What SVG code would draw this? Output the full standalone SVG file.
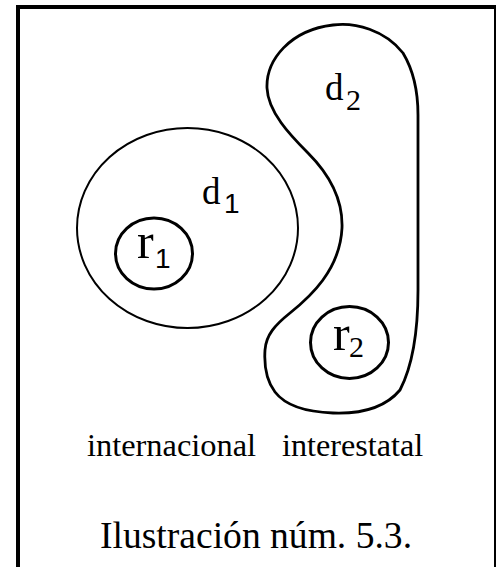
<svg xmlns="http://www.w3.org/2000/svg" width="496" height="567" viewBox="0 0 496 567">
<style>
.shape{fill:none;stroke:#000}
.serif{font-family:"Liberation Serif","Times New Roman",serif;fill:#000}
.sans{font-family:"Liberation Sans",Arial,sans-serif;fill:#000}
</style>
<rect x="18" y="7" width="478" height="575" fill="#fff" stroke="#000" stroke-width="4"/>
<g id="d1">
<ellipse class="shape" cx="187.5" cy="228" rx="110.5" ry="100" stroke-width="2"/>
<text class="serif" x="202" y="204" font-size="37">d</text>
<text class="sans" x="224" y="213" font-size="28">1</text>
</g>
<g id="r1">
<ellipse class="shape" cx="154" cy="253.5" rx="38.5" ry="35.5" stroke-width="3"/>
<text class="serif" x="137" y="258" font-size="50">r</text>
<text class="sans" x="155" y="268" font-size="28">1</text>
</g>
<g id="d2">
<path class="shape" stroke-width="2.8" d="M333,25 C355,22 385,30 403,53 C412,68 418,90 418,115 L418,290 C418,330 413,365 400,390 C385,408 360,414 333,413 C305,412 285,405 275,392 C266,380 264,365 265,350 C266,335 275,325 290,313 C310,297 340,270 342,228 C343,200 330,175 308,153 C290,135 268,112 267,88 C266,60 290,30 333,25 Z"/>
<text class="serif" x="325" y="100" font-size="37">d</text>
<text class="serif" x="346" y="110" font-size="30">2</text>
</g>
<g id="r2">
<ellipse class="shape" cx="349.5" cy="342.5" rx="39" ry="36" stroke-width="3"/>
<text class="serif" x="333" y="350" font-size="50">r</text>
<text class="serif" x="349" y="357" font-size="30">2</text>
</g>
<g id="connectors"></g>
<g id="labels">
<text class="serif" x="87" y="456" font-size="32.4">internacional</text>
<text class="serif" x="282" y="456" font-size="32.2">interestatal</text>
<text class="serif" x="256" y="548" font-size="37.6" text-anchor="middle">Ilustración núm. 5.3.</text>
</g>
</svg>
